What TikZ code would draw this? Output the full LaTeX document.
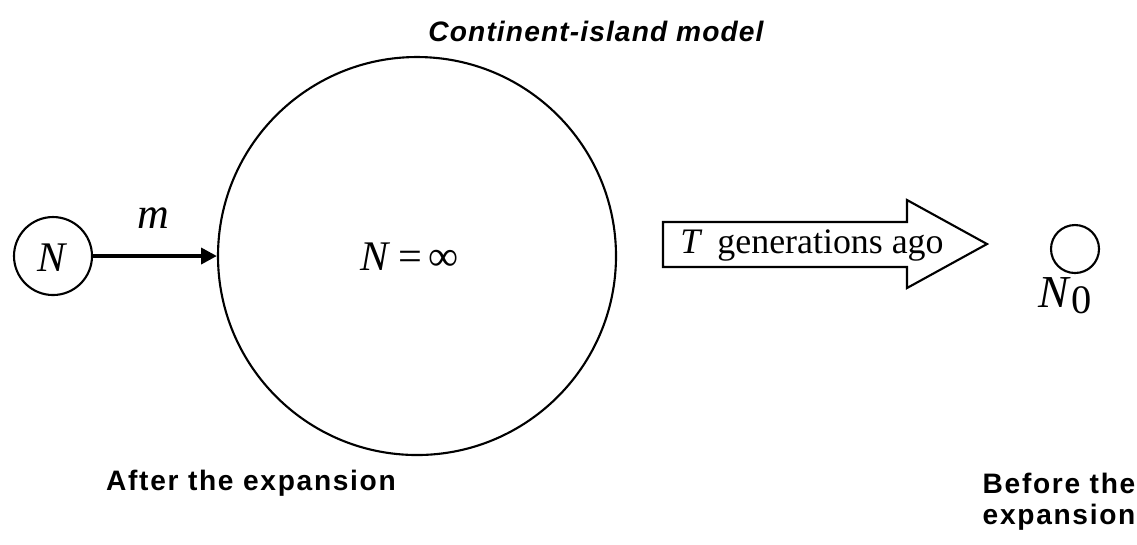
\documentclass[tikz,border=0pt]{standalone}
\usepackage{fontspec}
\setmainfont{Liberation Serif}
\newfontfamily\hvfont[LetterSpace=6]{Liberation Sans}
\newfontfamily\hvtitle[LetterSpace=4]{Liberation Sans}
\usetikzlibrary{arrows.meta}
\tikzset{
  pop/.style={draw, circle, line width=0.6pt, inner sep=0pt},
  sanslabel/.style={font=\hvfont\fontsize{8}{10}\selectfont\bfseries, inner sep=0pt},
  mathlabel/.style={inner sep=0pt, font=\fontsize{12}{14}\selectfont},
}
\begin{document}
\begin{tikzpicture}[x=0.01cm, y=-0.01cm]
\useasboundingbox (0,0) rectangle (1137,544);
% title
\node[inner sep=0pt, font=\hvtitle\fontsize{8}{10}\selectfont\bfseries\itshape] (title) at (596,31) {Continent-island model};
% populations
\node[pop, minimum size=78*0.01cm] (island) at (53,256) {};
\node[mathlabel] (islandlab) at (53,258) {\textit{N}};
\node[pop, minimum size=398*0.01cm] (continent) at (417,256) {};
\node[mathlabel] (contlab) at (410,257) {\textit{N}\,=\,∞};
\node[pop, minimum size=48*0.01cm] (ancestral) at (1075,249) {};
\node[inner sep=0pt, font=\fontsize{13}{15}\selectfont] (anclab) at (1065,296) {\textit{N}\raisebox{-0.3ex}{\fontsize{11.5}{13}\selectfont 0}};
% migration
\draw[line width=1.1pt, -{Triangle[length=4.5pt,width=4.5pt]}] (island) -- (continent);
\node[mathlabel, font=\fontsize{12.5}{14}\selectfont] (mlab) at (153,218) {\textit{m}};
% hollow arrow
\coordinate (harrow) at (663,222);
\draw[line width=0.6pt, line join=miter] (harrow) -- (907,222) -- (907,200) -- (987,244) -- (907,288) -- (907,267) -- (663,267) -- cycle;
\node[inner sep=0pt, font=\fontsize{10.2}{12}\selectfont] (tlab) at (812,245) {\textit{T}\, generations ago};
% bottom labels
\node[sanslabel] (after) at (251,483) {After the expansion};
\node[sanslabel, anchor=west] (before1) at (982,483) {Before the};
\node[sanslabel, anchor=west] (before2) at (982,517) {expansion};
\end{tikzpicture}
\end{document}
